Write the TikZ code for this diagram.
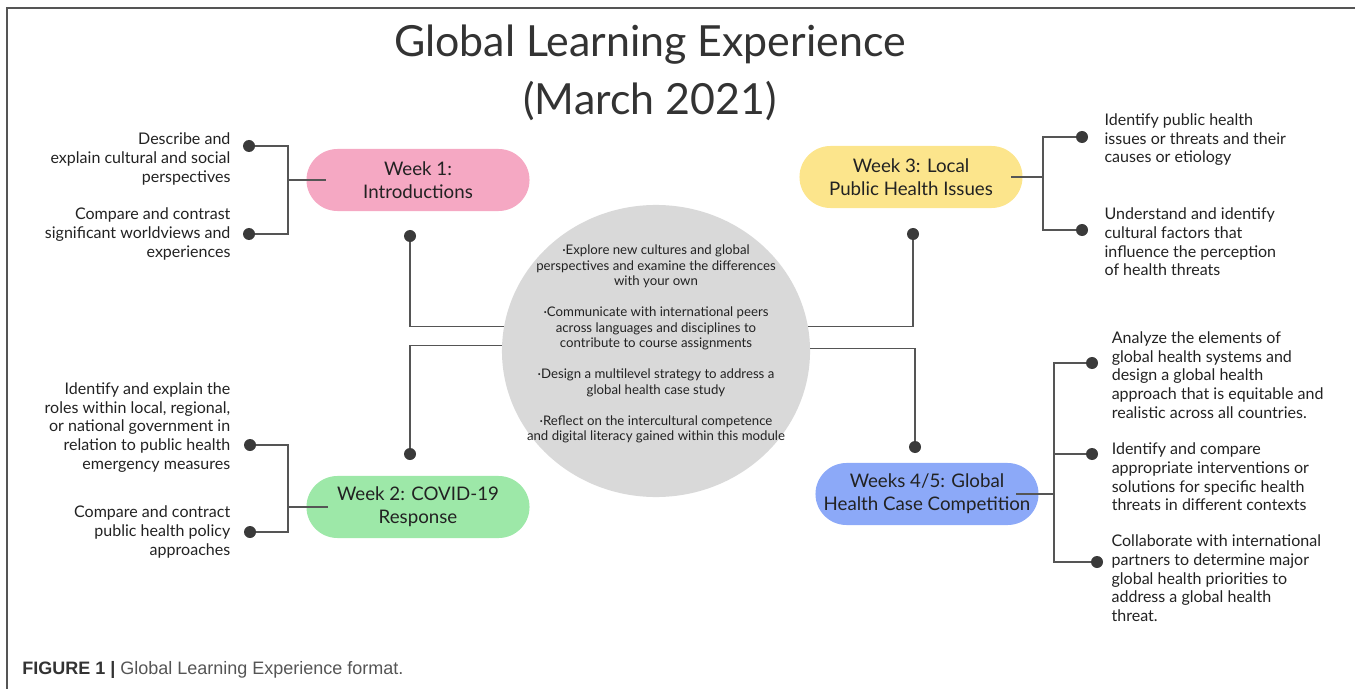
\documentclass[tikz,border=0pt]{standalone}
\usepackage{fontspec}
\setmainfont{Lato}
\newfontfamily\captionfont{Liberation Sans}
\usetikzlibrary{positioning}
\usetikzlibrary{shapes.geometric}

\definecolor{weekpink}{HTML}{F5A8C3}
\definecolor{weekyellow}{HTML}{FCE58C}
\definecolor{weekgreen}{HTML}{9DE8A8}
\definecolor{weekblue}{HTML}{8CA9F8}
\definecolor{goalgray}{HTML}{D9D9D9}
\definecolor{inktext}{HTML}{222222}
\definecolor{linegray}{HTML}{555555}
\definecolor{knobgray}{HTML}{3A3A3A}
\definecolor{capdark}{HTML}{333333}
\definecolor{capgray}{HTML}{555555}

\begin{document}
\begin{tikzpicture}[
		x=0.025cm, y=-0.025cm,
		week/.style={
			rectangle,
			rounded corners=0.775cm,
			minimum width=5.575cm,
			minimum height=1.55cm,
			align=center,
			text=inktext,
			font={\fontsize{13.3}{16.4}\selectfont}
		},
		outcome/.style={
			inner sep=0pt,
			text=inktext,
			font={\fontsize{11.4}{13.3}\selectfont}
		},
		knob/.style={
			circle,
			fill=knobgray,
			inner sep=0pt,
			minimum size=0.3cm
		},
		link/.style={
			draw=linegray,
			line width=0.8pt
		}
		]
		
		\useasboundingbox (0,0) rectangle (1355,689);
		\draw[draw=linegray, line width=0.8pt] (7,689) -- (7,8) -- (1355,8);
		
		\node[
		align=center,
		text=capdark,
		font={\fontsize{30.5}{41}\selectfont}
		] (title) at (650,73) {Global Learning Experience\\(March 2021)};
		
		\node[
		ellipse,
		fill=goalgray,
		inner sep=0pt,
		minimum width=7.7cm,
		minimum height=7.3cm
		] (goal) at (656,351) {};
		
		\node[
		align=center,
		text=inktext,
		font={\fontsize{9.4}{11}\selectfont}
		] (goaltext) at (656,344)
		{
			·Explore new cultures and global\\
			perspectives and examine the differences\\
			with your own\\[11pt]
			·Communicate with international peers\\
			across languages and disciplines to\\
			contribute to course assignments\\[11pt]
			·Design a multilevel strategy to address a\\
			global health case study\\[11pt]
			·Reflect on the intercultural competence\\
			and digital literacy gained within this module
		};
		
		\node[week, fill=weekpink] (w1) at (418,180) {Week 1:\\Introductions};
		\node[week, fill=weekgreen] (w2) at (418,507) {Week 2: COVID-19\\Response};
		\node[week, fill=weekyellow] (w3) at (911,177) {Week 3: Local\\Public Health Issues};
		\node[week, fill=weekblue] (w4) at (927,494) {Weeks 4/5: Global\\Health Case Competition};
		
		\node[knob] (d1) at (410,236) {};
		\node[knob] (d2) at (410,454) {};
		\node[knob] (d3) at (913,234) {};
		\node[knob] (d4) at (915,447) {};
		
		\node[knob] (d1a) at (249,146) {};
		\node[knob] (d1b) at (249,234) {};
		\node[knob] (d2a) at (250,445) {};
		\node[knob] (d2b) at (250,532) {};
		\node[knob] (d3a) at (1082,137) {};
		\node[knob] (d3b) at (1082,230) {};
		\node[knob] (d4a) at (1092,363) {};
		\node[knob] (d4b) at (1092,454) {};
		\node[knob] (d4c) at (1097,562) {};
		
		\node[outcome, align=right, left=0.3cm of d1a, yshift=-0.32cm] (t1a)
		{Describe and\\explain cultural and social\\perspectives};
		\node[outcome, align=right, left=0.3cm of d1b] (t1b)
		{Compare and contrast\\significant worldviews and\\experiences};
		\node[outcome, align=right, left=0.33cm of d2a, yshift=0.44cm] (t2a)
		{Identify and explain the\\roles within local, regional,\\or national government in\\relation to public health\\emergency measures};
		\node[outcome, align=right, left=0.33cm of d2b] (t2b)
		{Compare and contract\\public health policy\\approaches};
		
		\node[outcome, align=left, right=0.4cm of d3a, yshift=-0.07cm] (t3a)
		{Identify public health\\issues or threats and their\\causes or etiology};
		\node[outcome, align=left, right=0.4cm of d3b, yshift=-0.3cm] (t3b)
		{Understand and identify\\cultural factors that\\influence the perception\\of health threats};
		\node[outcome, align=left, right=0.33cm of d4a, yshift=-0.3cm] (t4a)
		{Analyze the elements of\\global health systems and\\design a global health\\approach that is equitable and\\realistic across all countries.};
		\node[outcome, align=left, right=0.33cm of d4b, yshift=-0.575cm] (t4b)
		{Identify and compare\\appropriate interventions or\\solutions for specific health\\threats in different contexts};
		\node[outcome, align=left, right=0.2cm of d4c, yshift=-0.41cm] (t4c)
		{Collaborate with international\\partners to determine major\\global health priorities to\\address a global health\\threat.};
		
		\node[
		anchor=west,
		inner sep=0pt,
		font={\captionfont\fontsize{12.8}{15}\selectfont}
		] (caption) at (22,670)
		{\textcolor{capdark}{\bfseries FIGURE 1 |} \textcolor{capgray}{Global Learning Experience format.}};
		
		%%%%%%%%%%
		
		\coordinate (j1) at (288,180);
		\coordinate (j2) at (288,507);
		\coordinate (j3) at (1043,177);
		\coordinate (j4) at (1054,494);
		
		\draw[link] (d1a) -| (j1) |- (d1b);
		\draw[link] (j1) -- ([xshift=0.5cm]w1.west);
		
		\draw[link] (d2a) -| (j2) |- (d2b);
		\draw[link] (j2) -- ([xshift=0.55cm]w2.west);
		
		\draw[link] (d3a) -| (j3) |- (d3b);
		\draw[link] (j3) -- ([xshift=-0.3cm]w3.east);
		
		\draw[link] (d4a) -| (j4) |- (d4c);
		\draw[link] (j4) |- (d4b);
		\draw[link] (j4) -- ([xshift=-0.575cm]w4.east);
		
		\draw[link] (d1) |- (goal.171);
		\draw[link] (d2) |- (goal.178);
		\draw[link] (d3) |- (goal.9.5);
		\draw[link] (d4) |- (goal.1.6);
		
	\end{tikzpicture}
\end{document}
